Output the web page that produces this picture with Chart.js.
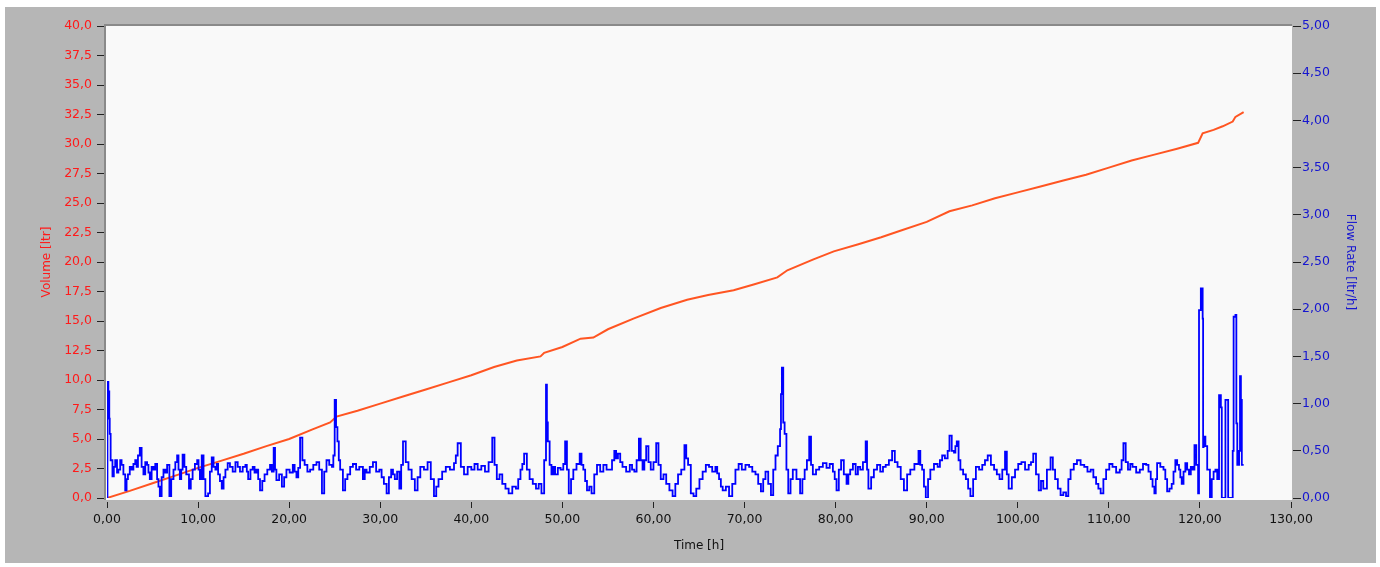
<!DOCTYPE html>
<html>
<head>
<meta charset="utf-8">
<title>Volume / Flow Rate</title>
<script src="https://cdn.jsdelivr.net/npm/chart.js@4.4.1/dist/chart.umd.min.js"></script>
<style>
  html, body { margin: 0; padding: 0; background: #fff; }
  #panel { position: absolute; left: 5px; top: 7px; width: 1371px; height: 556px; background: #b6b6b6; }
  canvas { display: block; }
</style>
</head>
<body>
<div id="panel"><canvas id="chart" width="1371" height="556"></canvas></div>
<script>
// cumulative volume [ltr] over time [h]
const volumeHours = [0, 2.5, 5, 7.5, 10, 12.5, 15, 17.5, 20, 22.5, 24.5, 25.2, 27.5, 30, 32.5, 35, 37.5, 40, 42.5, 45,
  47.6, 48, 50, 52, 53.4, 55, 57.8, 60.8, 63.7, 66, 68.8, 71, 73.6, 74.7, 77.5, 79.8, 82.5, 85, 87.1, 90, 92.5, 95,
  97.5, 100, 102.5, 105, 107.5, 110, 112.5, 115, 117.5, 119.8, 120.3, 121.5, 122.5, 123.6, 123.9, 124.8];
const volumeLtr = [0, 0.6, 1.25, 1.9, 2.55, 3.15, 3.75, 4.4, 5.0, 5.8, 6.4, 6.9, 7.4, 8.0, 8.6, 9.2, 9.8, 10.4, 11.1, 11.65,
  12.0, 12.3, 12.8, 13.5, 13.6, 14.3, 15.2, 16.1, 16.8, 17.2, 17.6, 18.1, 18.7, 19.3, 20.2, 20.9, 21.5, 22.1, 22.65, 23.4, 24.3, 24.8,
  25.4, 25.9, 26.4, 26.9, 27.4, 28.0, 28.6, 29.1, 29.6, 30.1, 30.9, 31.2, 31.5, 31.9, 32.3, 32.7];

// flow rate [ltr/h] samples
const flowHours = [
  0, 0.05, 0.15, 0.25, 0.3, 0.4, 0.6, 0.75, 0.9, 1.1,
  1.25, 1.45, 1.6, 1.8, 2.0, 2.15, 2.3, 2.5, 2.7, 2.9,
  3.1, 3.25, 3.4, 3.6, 3.8, 4.0, 4.2, 4.4, 4.55, 4.7,
  4.9, 5.1, 5.3, 5.5, 5.65, 5.8, 6.0, 6.2, 6.4, 6.6,
  6.85, 7.05, 7.3, 7.5, 7.7, 7.85, 8.0, 8.15, 8.3, 8.5,
  8.7, 9.0, 9.2, 9.4, 9.65, 9.9, 10.05, 10.2, 10.4, 10.6,
  10.8, 11.1, 11.3, 11.5, 11.7, 11.9, 12.05, 12.2, 12.4, 12.6,
  12.8, 13.0, 13.25, 13.5, 13.8, 14.1, 14.35, 14.6, 14.9, 15.2,
  15.35, 15.5, 15.75, 16.0, 16.2, 16.4, 16.6, 16.8, 17.05, 17.3,
  17.6, 17.9, 18.1, 18.3, 18.45, 18.6, 18.9, 19.2, 19.45, 19.7,
  20.05, 20.4, 20.6, 20.8, 21.0, 21.2, 21.45, 21.7, 22.0, 22.3,
  22.65, 23.0, 23.3, 23.6, 23.85, 24.1, 24.4, 24.7, 24.85, 25.0,
  25.15, 25.3, 25.45, 25.6, 25.9, 26.15, 26.4, 26.7, 27.0, 27.35,
  27.7, 28.1, 28.3, 28.5, 28.85, 29.2, 29.55, 29.9, 30.15, 30.4,
  30.7, 30.95, 31.2, 31.4, 31.6, 31.85, 32.1, 32.3, 32.5, 32.8,
  33.1, 33.45, 33.8, 34.1, 34.4, 34.8, 35.2, 35.55, 35.9, 36.15,
  36.4, 36.8, 37.2, 37.65, 38.1, 38.3, 38.5, 38.85, 39.2, 39.6,
  40.0, 40.35, 40.7, 41.1, 41.5, 41.9, 42.3, 42.55, 42.8, 43.1,
  43.4, 43.75, 44.1, 44.5, 44.9, 45.15, 45.4, 45.6, 45.8, 46.1,
  46.4, 46.75, 47.1, 47.4, 47.7, 48.0, 48.2, 48.3, 48.4, 48.6,
  48.8, 49.0, 49.2, 49.5, 49.8, 50.1, 50.3, 50.5, 50.7, 50.95,
  51.2, 51.55, 51.9, 52.1, 52.3, 52.5, 52.7, 52.95, 53.2, 53.5,
  53.8, 54.15, 54.5, 54.85, 55.2, 55.45, 55.7, 55.9, 56.1, 56.35,
  56.6, 57.0, 57.4, 57.65, 57.9, 58.15, 58.4, 58.6, 58.8, 59.0,
  59.2, 59.45, 59.7, 60.0, 60.3, 60.55, 60.8, 61.1, 61.4, 61.75,
  62.1, 62.4, 62.7, 63.05, 63.4, 63.6, 63.8, 64.1, 64.4, 64.7,
  65.05, 65.4, 65.75, 66.1, 66.45, 66.8, 67.0, 67.2, 67.4, 67.6,
  67.95, 68.3, 68.65, 69.0, 69.35, 69.7, 70.1, 70.5, 70.85, 71.2,
  71.5, 71.8, 72.05, 72.3, 72.6, 72.9, 73.15, 73.4, 73.65, 73.9,
  74.0, 74.1, 74.25, 74.4, 74.6, 74.8, 75.05, 75.3, 75.7, 76.1,
  76.35, 76.6, 76.85, 77.1, 77.3, 77.5, 77.85, 78.2, 78.6, 79.0,
  79.35, 79.7, 79.9, 80.1, 80.35, 80.6, 80.9, 81.2, 81.4, 81.6,
  81.9, 82.2, 82.45, 82.7, 83.0, 83.3, 83.45, 83.6, 83.9, 84.2,
  84.55, 84.9, 85.2, 85.5, 85.85, 86.2, 86.5, 86.8, 87.15, 87.5,
  87.85, 88.2, 88.65, 89.1, 89.3, 89.5, 89.7, 89.9, 90.15, 90.4,
  90.8, 91.2, 91.45, 91.7, 92.0, 92.3, 92.5, 92.75, 93.0, 93.15,
  93.3, 93.5, 93.7, 94.0, 94.3, 94.55, 94.8, 95.1, 95.4, 95.75,
  96.1, 96.4, 96.7, 97.05, 97.4, 97.7, 98.0, 98.3, 98.6, 98.8,
  99.0, 99.35, 99.7, 100.05, 100.4, 100.8, 101.2, 101.45, 101.7, 102.0,
  102.3, 102.55, 102.8, 103.2, 103.6, 103.85, 104.1, 104.4, 104.7, 105.0,
  105.3, 105.55, 105.8, 106.15, 106.5, 106.9, 107.3, 107.65, 108.0, 108.3,
  108.6, 108.85, 109.1, 109.4, 109.7, 110.05, 110.4, 110.8, 111.2, 111.4,
  111.6, 111.85, 112.1, 112.35, 112.6, 113.0, 113.4, 113.75, 114.1, 114.35,
  114.6, 114.8, 115.0, 115.15, 115.3, 115.65, 116.0, 116.2, 116.4, 116.65,
  116.9, 117.1, 117.3, 117.5, 117.7, 117.85, 118.0, 118.2, 118.4, 118.6,
  118.8, 119.0, 119.2, 119.4, 119.6, 119.8, 119.9, 120.1, 120.3, 120.35,
  120.4, 120.6, 120.8, 121.1, 121.3, 121.5, 121.7, 121.9, 122.1, 122.3,
  122.4, 122.7, 122.8, 123.0, 123.1, 123.5, 123.6, 123.7, 123.9, 124.0,
  124.1, 124.3, 124.4, 124.5, 124.6, 124.8
];
const flowRate = [
  0, 1.23, 1.13, 0.84, 0.68, 0.4, 0.23, 0.33, 0.4, 0.27,
  0.3, 0.4, 0.35, 0.25, 0.08, 0.2, 0.25, 0.33, 0.3, 0.36,
  0.4, 0.33, 0.45, 0.53, 0.33, 0.25, 0.38, 0.35, 0.27, 0.2,
  0.33, 0.3, 0.36, 0.2, 0.12, 0.02, 0.22, 0.3, 0.27, 0.35,
  0.02, 0.2, 0.3, 0.38, 0.45, 0.3, 0.2, 0.3, 0.46, 0.33,
  0.25, 0.1, 0.2, 0.3, 0.36, 0.4, 0.3, 0.2, 0.45, 0.2,
  0.02, 0.05, 0.28, 0.43, 0.33, 0.3, 0.36, 0.25, 0.18, 0.1,
  0.22, 0.3, 0.37, 0.33, 0.28, 0.38, 0.33, 0.28, 0.33, 0.35,
  0.28, 0.2, 0.3, 0.33, 0.27, 0.3, 0.2, 0.08, 0.18, 0.25,
  0.3, 0.35, 0.28, 0.53, 0.3, 0.19, 0.25, 0.12, 0.22, 0.3,
  0.27, 0.35, 0.28, 0.22, 0.32, 0.64, 0.4, 0.35, 0.28, 0.3,
  0.35, 0.38, 0.3, 0.05, 0.28, 0.4, 0.35, 0.33, 0.45, 1.04,
  0.75, 0.6, 0.4, 0.3, 0.08, 0.2, 0.25, 0.33, 0.36, 0.3,
  0.33, 0.2, 0.3, 0.27, 0.33, 0.38, 0.28, 0.3, 0.22, 0.15,
  0.05, 0.22, 0.3, 0.25, 0.2, 0.28, 0.1, 0.35, 0.6, 0.38,
  0.3, 0.2, 0.08, 0.22, 0.33, 0.3, 0.38, 0.2, 0.02, 0.12,
  0.2, 0.28, 0.33, 0.3, 0.37, 0.45, 0.58, 0.33, 0.25, 0.33,
  0.3, 0.36, 0.3, 0.34, 0.28, 0.38, 0.64, 0.35, 0.2, 0.25,
  0.15, 0.1, 0.05, 0.12, 0.1, 0.2, 0.3, 0.36, 0.47, 0.3,
  0.2, 0.15, 0.1, 0.15, 0.05, 0.4, 1.2, 0.8, 0.6, 0.35,
  0.25, 0.33, 0.25, 0.32, 0.3, 0.36, 0.6, 0.3, 0.05, 0.2,
  0.3, 0.36, 0.47, 0.35, 0.3, 0.18, 0.08, 0.12, 0.05, 0.25,
  0.35, 0.28, 0.35, 0.3, 0.3, 0.4, 0.5, 0.42, 0.47, 0.38,
  0.33, 0.28, 0.35, 0.3, 0.28, 0.4, 0.63, 0.4, 0.3, 0.4,
  0.55, 0.38, 0.3, 0.38, 0.58, 0.35, 0.2, 0.25, 0.15, 0.08,
  0.02, 0.15, 0.25, 0.3, 0.56, 0.42, 0.35, 0.05, 0.02, 0.1,
  0.2, 0.28, 0.35, 0.33, 0.28, 0.33, 0.26, 0.2, 0.12, 0.08,
  0.12, 0.02, 0.15, 0.3, 0.36, 0.3, 0.35, 0.33, 0.28, 0.25,
  0.15, 0.07, 0.2, 0.28, 0.15, 0.03, 0.3, 0.45, 0.55, 0.73,
  1.1, 1.38, 0.8, 0.68, 0.3, 0.05, 0.2, 0.3, 0.2, 0.05,
  0.2, 0.3, 0.4, 0.65, 0.35, 0.25, 0.3, 0.33, 0.37, 0.32,
  0.36, 0.28, 0.2, 0.08, 0.3, 0.4, 0.25, 0.15, 0.25, 0.3,
  0.36, 0.25, 0.33, 0.3, 0.38, 0.6, 0.3, 0.1, 0.22, 0.3,
  0.35, 0.28, 0.33, 0.35, 0.4, 0.5, 0.38, 0.33, 0.2, 0.08,
  0.25, 0.3, 0.36, 0.5, 0.35, 0.3, 0.12, 0.0, 0.2, 0.3,
  0.36, 0.33, 0.4, 0.45, 0.42, 0.5, 0.66, 0.5, 0.48, 0.55,
  0.6, 0.4, 0.3, 0.25, 0.2, 0.1, 0.02, 0.2, 0.33, 0.3,
  0.35, 0.4, 0.45, 0.35, 0.3, 0.25, 0.2, 0.3, 0.49, 0.25,
  0.1, 0.22, 0.3, 0.36, 0.38, 0.3, 0.35, 0.38, 0.47, 0.25,
  0.08, 0.18, 0.1, 0.3, 0.43, 0.3, 0.2, 0.1, 0.03, 0.06,
  0.02, 0.2, 0.3, 0.36, 0.4, 0.35, 0.33, 0.28, 0.3, 0.22,
  0.15, 0.1, 0.05, 0.2, 0.3, 0.36, 0.33, 0.27, 0.3, 0.4,
  0.58, 0.38, 0.3, 0.36, 0.33, 0.27, 0.3, 0.36, 0.35, 0.28,
  0.2, 0.12, 0.05, 0.2, 0.37, 0.33, 0.3, 0.2, 0.07, 0.1,
  0.15, 0.28, 0.4, 0.35, 0.3, 0.22, 0.15, 0.28, 0.37, 0.3,
  0.25, 0.33, 0.3, 0.56, 0.35, 0.05, 1.99, 2.22, 1.9, 0.54,
  0.65, 0.55, 0.3, 0.01, 0.2, 0.28, 0.3, 0.2, 1.09, 0.96,
  0, 0, 1.04, 1.04, 0, 0, 0.5, 1.92, 1.94, 0.79,
  0.35, 0.5, 1.29, 1.04, 0.35, 0.35
];

const tickFont = { family: "DejaVu Sans", size: 12.5 };
const titleFont = { family: "DejaVu Sans", size: 12 };
const comma = (v, digits) => Number(v).toFixed(digits).replace(".", ",");

// sunken white plot panel with dark top/left edge
const plotPanel = {
  id: "plotPanel",
  beforeDraw(chart) {
    const { ctx, chartArea: a } = chart;
    ctx.save();
    ctx.fillStyle = "#f9f9f9";
    ctx.fillRect(a.left - 1, a.top, a.right - a.left + 2, a.bottom - a.top + 2);
    ctx.fillStyle = "#8a8a8a";
    ctx.fillRect(a.left - 3, a.top - 2, a.right - a.left + 4, 2);
    ctx.fillRect(a.left - 3, a.top - 2, 2, a.bottom - a.top + 4);
    ctx.restore();
  }
};

new Chart(document.getElementById("chart"), {
  type: "line",
  data: {
    datasets: [
      {
        label: "Flow Rate",
        data: flowHours.map((h, i) => ({ x: h, y: flowRate[i] })),
        yAxisID: "y1",
        borderColor: "#0000ff",
        borderWidth: 1.8,
        stepped: true,
        pointRadius: 0,
        order: 1
      },
      {
        label: "Volume",
        data: volumeHours.map((h, i) => ({ x: h, y: volumeLtr[i] })),
        yAxisID: "y",
        borderColor: "#ff5522",
        borderWidth: 2,
        tension: 0,
        pointRadius: 0,
        order: 2
      }
    ]
  },
  options: {
    responsive: false,
    animation: false,
    layout: { padding: { top: 19, left: 0, right: 0, bottom: 0 } },
    plugins: {
      legend: { display: false },
      tooltip: { enabled: false }
    },
    scales: {
      x: {
        type: "linear",
        position: "bottom",
        min: 0,
        max: 130,
        afterFit: (s) => { s.height = 65; },
        border: { display: false },
        grid: {
          drawOnChartArea: false,
          tickLength: 10,
          tickColor: "#222",
          tickWidth: 1,
          tickBorderDash: [0, 4, 6, 0]
        },
        ticks: {
          stepSize: 10,
          autoSkip: false,
          maxRotation: 0,
          padding: 4,
          color: "#111",
          font: tickFont,
          callback: (v) => comma(v, 2)
        },
        title: {
          display: true,
          text: "Time [h]",
          color: "#111",
          font: titleFont,
          padding: { top: 0, bottom: 9.5 }
        }
      },
      y: {
        position: "left",
        min: 0,
        max: 40,
        afterFit: (s) => { s.width = 102; },
        border: { display: false },
        grid: {
          drawOnChartArea: false,
          tickLength: 10,
          tickColor: "#222",
          tickWidth: 1,
          tickBorderDash: [7, 3]
        },
        ticks: {
          stepSize: 2.5,
          autoSkip: false,
          padding: 5,
          color: "#ff1a1a",
          font: tickFont,
          callback: (v) => comma(v, 1)
        },
        title: {
          display: true,
          text: "Volume [ltr]",
          color: "#ff1a1a",
          font: titleFont,
          padding: { top: 34.8, bottom: 0 }
        }
      },
      y1: {
        position: "right",
        min: 0,
        max: 5,
        afterFit: (s) => { s.width = 85; },
        border: { display: false },
        grid: {
          drawOnChartArea: false,
          tickLength: 10,
          tickColor: "#222",
          tickWidth: 1,
          tickBorderDash: [0, 2, 8, 0]
        },
        ticks: {
          stepSize: 0.5,
          autoSkip: false,
          padding: 1,
          color: "#1515d0",
          font: tickFont,
          callback: (v) => comma(v, 2)
        },
        title: {
          display: true,
          text: "Flow Rate [ltr/h]",
          color: "#1515d0",
          font: titleFont,
          padding: { top: 18.8, bottom: 0 }
        }
      }
    }
  },
  plugins: [plotPanel]
});
</script>
</body>
</html>
